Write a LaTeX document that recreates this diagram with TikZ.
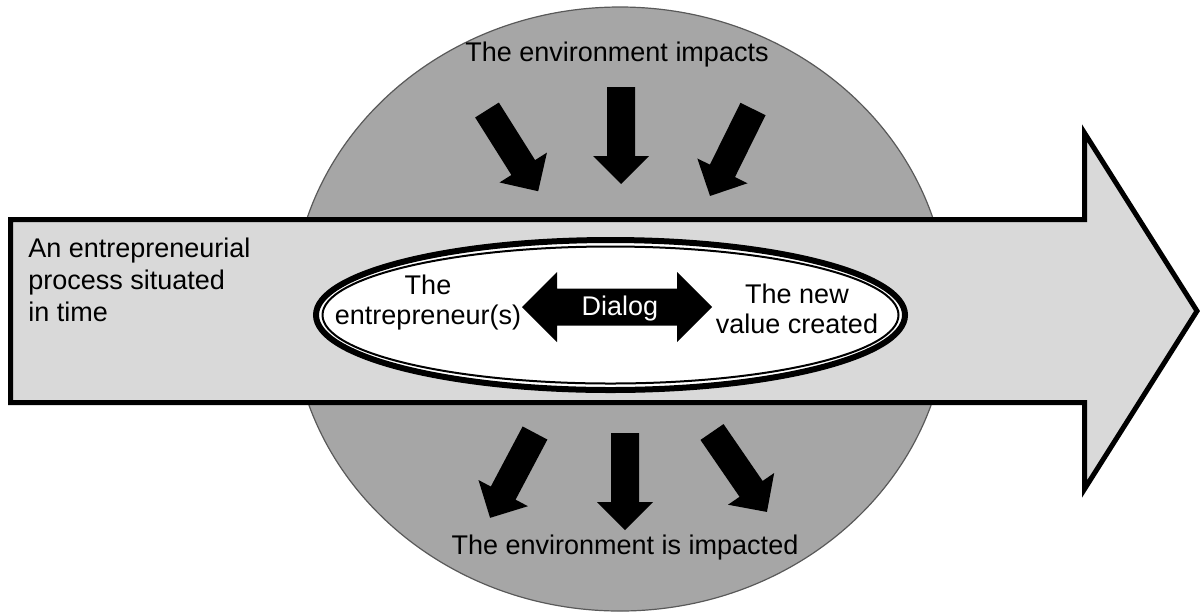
\documentclass[tikz,border=0pt]{standalone}
\usepackage{fontspec}
\setmainfont{Liberation Sans}
\usepackage{tikz}

\definecolor{envgray}{HTML}{A6A6A6}
\definecolor{bandgray}{HTML}{D9D9D9}

\tikzset{
	lbl/.style={font=\fontsize{13.5}{16}\selectfont, inner sep=0pt},
	blk/.style={fill=black},
}

% tail, turn, length
\newcommand{\blockarrow}[3]{%
	\fill[blk, shift={(#1)}, rotate=#2] (0,-14) -- ({#3-28},-14) -- ({#3-28},-28) -- (#3,0)
	-- ({#3-28},28) -- ({#3-28},14) -- (0,14) -- cycle;}

\begin{document}
\begin{tikzpicture}[x=0.5pt, y=-0.5pt]
		\useasboundingbox (0,0) rectangle (1203,612);
		\coordinate (E) at (620,309);
		\coordinate (D) at (610.5,315);
		\fill[envgray, draw=black!65, line width=0.6pt] (E) ellipse [x radius=328, y radius=302];
		\draw[fill=bandgray, line width=2.5pt] (10.5,219.5) -- (1084.5,219.5) -- (1084.5,133)
		-- (1197,311) -- (1084.5,489) -- (1084.5,402.5) -- (10.5,402.5) -- cycle;
		\draw[fill=white, line width=3pt] (D) ellipse [x radius=294.5, y radius=75];
		\draw[line width=1pt] (D) ellipse [x radius=288, y radius=68.5];
		\blockarrow{487,110}{-57.8}{96}
		\blockarrow{621,87}{-90}{97}
		\blockarrow{753,109}{-116.3}{97}
		\blockarrow{535,433}{-117.9}{96}
		\blockarrow{625,433}{-90}{97}
		\blockarrow{712,432}{-55.5}{97}
		\fill[blk] (522,307) -- (557,272) -- (557,288.5) -- (677,288.5) -- (677,272) -- (712,307)
		-- (677,342) -- (677,325.5) -- (557,325.5) -- (557,342) -- cycle;
		\node[lbl, text=white] (dialog) at (620,309) {Dialog};
		\node[lbl] (impacts) at (617,55) {The environment impacts};
		\node[lbl] (impacted) at (625,548) {The environment is impacted};
		\node[lbl, anchor=north west, align=left] (process) at (28,238) {An entrepreneurial\\process situated\\in time};
		\node[lbl, anchor=north, align=center, font=\fontsize{13.5}{15}\selectfont] (entrepreneur) at (428,275) {The\\entrepreneur(s)};
		\node[lbl, anchor=north, align=center, font=\fontsize{13.5}{15}\selectfont] (value) at (797,284) {The new\\value created};
\end{tikzpicture}
\end{document}
